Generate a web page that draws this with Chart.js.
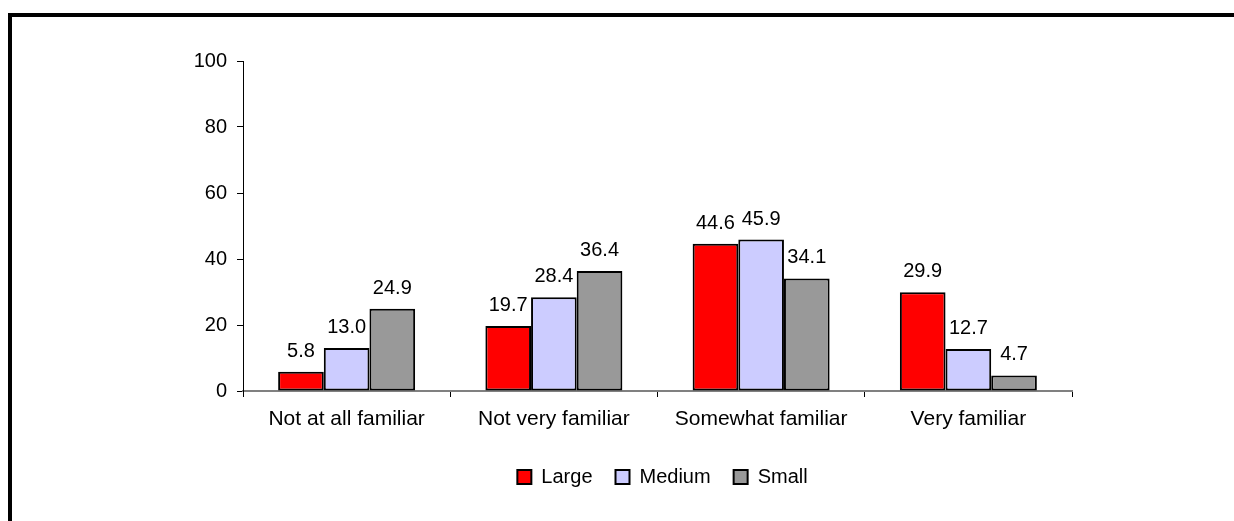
<!DOCTYPE html>
<html>
<head>
<meta charset="utf-8">
<script src="https://cdn.jsdelivr.net/npm/chart.js@4/dist/chart.umd.min.js"></script>
<style>
  html, body { margin: 0; padding: 0; background: #fff; overflow: hidden; }
  #wrap { position: relative; width: 1234px; height: 521px; }
  #frame {
    position: absolute; left: 8px; top: 13px; right: -20px; bottom: -20px;
    border-top: 4px solid #000; border-left: 4px solid #000;
    pointer-events: none;
  }
</style>
</head>
<body>
<div id="wrap">
  <canvas id="familiarChart" width="1234" height="521"></canvas>
  <div id="frame"></div>
</div>
<script>
const categories = ['Not at all familiar', 'Not very familiar', 'Somewhat familiar', 'Very familiar'];
const large = [5.8, 19.7, 44.6, 29.9];
const medium = [13.0, 28.4, 45.9, 12.7];
const small = [24.9, 36.4, 34.1, 4.7];
const yTicks = [0, 20, 40, 60, 80, 100];

const FONT = "'Liberation Sans', Arial, sans-serif";

// value printed above each bar
const barValues = {
    id: 'barValues',
    afterDatasetsDraw(chart) {
        const ctx = chart.ctx;
        ctx.save();
        ctx.font = '20px ' + FONT;
        ctx.fillStyle = '#000';
        ctx.textAlign = 'center';
        ctx.textBaseline = 'alphabetic';
        chart.data.datasets.forEach((ds, i) => {
            chart.getDatasetMeta(i).data.forEach((bar, j) => {
                ctx.fillText(ds.data[j].toFixed(1), bar.x, bar.y - 15);
            });
        });
        ctx.restore();
    }
};

const el = document.getElementById('familiarChart');

new Chart(el, {
    type: 'bar',
    data: {
        labels: categories,
        datasets: [
            { label: 'Large', data: large, backgroundColor: '#FF0000' },
            { label: 'Medium', data: medium, backgroundColor: '#CCCCFF' },
            { label: 'Small', data: small, backgroundColor: '#999999' }
        ].map(d => Object.assign(d, {
            borderColor: '#000',
            borderWidth: 2,
            borderSkipped: false,
            categoryPercentage: 0.661,
            barPercentage: 1
        }))
    },
    options: {
        responsive: false,
        animation: false,
        layout: { padding: { left: 91, right: 0, top: 61, bottom: 24 } },
        plugins: {
            tooltip: { enabled: false },
            legend: {
                position: 'bottom',
                labels: {
                    color: '#000',
                    font: { family: FONT, size: 20 },
                    boxWidth: 14,
                    boxHeight: 14,
                    padding: 23
                }
            }
        },
        scales: {
            x: {
                grid: { display: true, drawOnChartArea: false, offset: true, tickLength: 6, color: '#000' },
                border: { color: '#808080', width: 2 },
                ticks: { color: '#000', font: { family: FONT, size: 21 }, padding: 10, maxRotation: 0 },
                afterFit(s) { s.height = 53; }
            },
            y: {
                min: 0,
                max: 100,
                afterBuildTicks(s) { s.ticks = yTicks.map(v => ({ value: v })); },
                grid: { display: true, drawOnChartArea: false, tickLength: 6, color: '#000' },
                border: { color: '#000', width: 1 },
                ticks: { color: '#000', font: { family: FONT, size: 20 }, padding: 10 },
                afterFit(s) { s.width = 152; }
            },
            // empty strip on the right keeps the plot narrower than the legend row
            spacer: {
                type: 'linear',
                position: 'right',
                display: true,
                grid: { display: false },
                border: { display: false },
                ticks: { display: false },
                afterFit(s) { s.width = 162; }
            }
        }
    },
    plugins: [barValues]
});
</script>
</body>
</html>
